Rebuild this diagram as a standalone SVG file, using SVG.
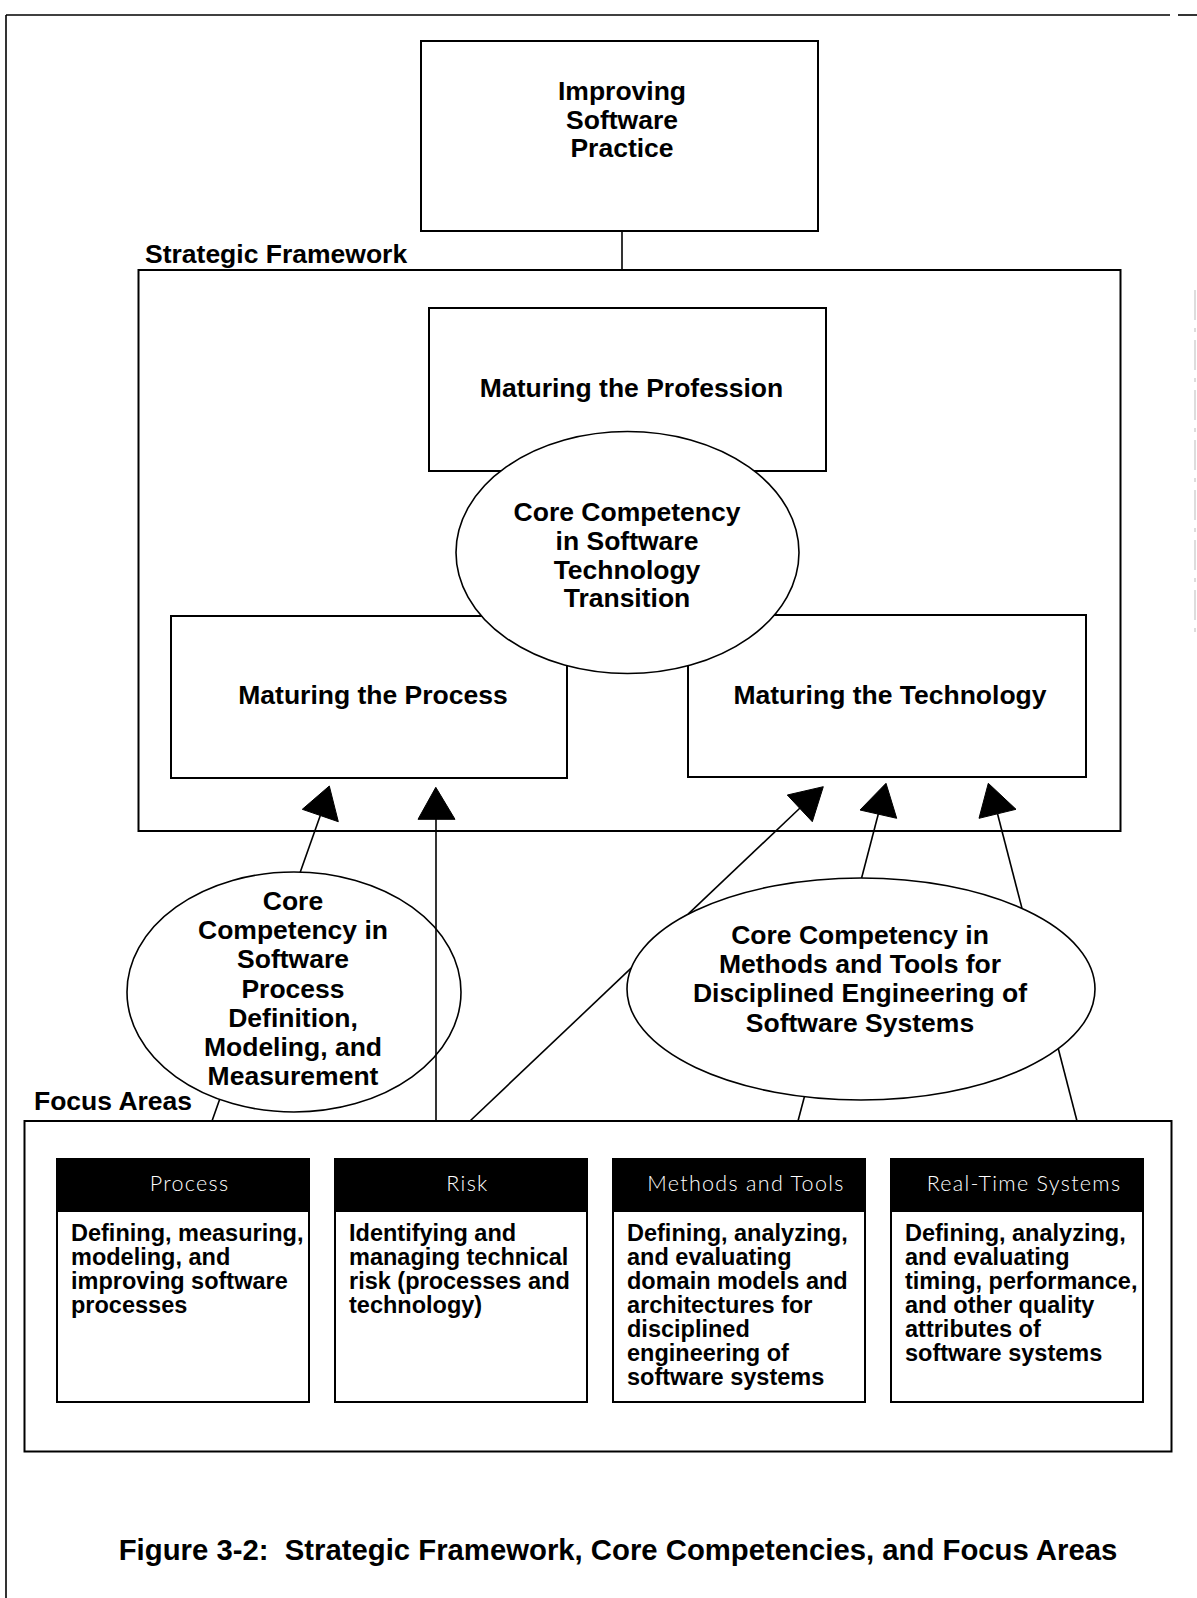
<svg xmlns="http://www.w3.org/2000/svg" width="1197" height="1598" viewBox="0 0 1197 1598">
  <style>
    .frame { fill: none; stroke: #000; stroke-width: 2; }
    .box { fill: #fff; stroke: #000; stroke-width: 2; }
    .ell { fill: #fff; stroke: #000; stroke-width: 1.6; }
    .hdrbar { fill: #000; stroke: #000; stroke-width: 2; }
    .t { font-family: "Liberation Sans", Arial, sans-serif; font-weight: bold; font-size: 26.5px; fill: #000; text-anchor: middle; }
    .lbl { font-family: "Liberation Sans", Arial, sans-serif; font-weight: bold; font-size: 26.5px; fill: #000; }
    .body { font-family: "Liberation Sans", Arial, sans-serif; font-weight: bold; font-size: 23.5px; fill: #000; }
    .hdr { font-family: Lato, "Liberation Sans", Arial, sans-serif; font-weight: 300; font-size: 21.5px; fill: #fff; text-anchor: middle; letter-spacing: 1.3px; }
    .cap { font-family: "Liberation Sans", Arial, sans-serif; font-weight: bold; font-size: 29.3px; fill: #000; text-anchor: middle; }
    .conn line { stroke: #000; stroke-width: 1.6; }
    .conn polygon { fill: #000; stroke: #000; stroke-width: 1; stroke-linejoin: round; }
    .edge { stroke: #000; stroke-width: 1.6; fill: none; }
  </style>

  <!-- page border -->
  <g id="page-border">
    <line class="edge" x1="6" y1="15" x2="1170" y2="15"/>
    <line class="edge" x1="1178" y1="15" x2="1197" y2="15"/>
    <line class="edge" x1="6" y1="15" x2="6" y2="1598"/>
    <line x1="1195" y1="290" x2="1195" y2="640" stroke="#bbb" stroke-width="1" stroke-dasharray="30 8 4 8"/>
  </g>

  <!-- top goal -->
  <g id="improving-practice">
    <rect class="box" x="421" y="41" width="397" height="190"/>
    <text class="t" x="622" y="100">Improving</text>
    <text class="t" x="622" y="128.5">Software</text>
    <text class="t" x="622" y="157">Practice</text>
  </g>

  <!-- strategic framework container -->
  <g id="strategic-framework">
    <text class="lbl" x="145" y="263">Strategic Framework</text>
    <rect class="frame" x="138.5" y="270" width="982" height="561"/>
  </g>

  <g id="maturing-profession">
    <rect class="box" x="429" y="308" width="397" height="163"/>
    <text class="t" x="631.5" y="397">Maturing the Profession</text>
  </g>

  <g id="maturing-process">
    <rect class="box" x="171" y="616" width="396" height="162"/>
    <text class="t" x="373" y="704">Maturing the Process</text>
  </g>

  <g id="maturing-technology">
    <rect class="box" x="688" y="615" width="398" height="162"/>
    <text class="t" x="890" y="704">Maturing the Technology</text>
  </g>

  <g id="cc-transition">
    <ellipse class="ell" cx="627.5" cy="552.5" rx="171.5" ry="121"/>
    <text class="t" x="627" y="521">Core Competency</text>
    <text class="t" x="627" y="550">in Software</text>
    <text class="t" x="627" y="578.5">Technology</text>
    <text class="t" x="627" y="607">Transition</text>
  </g>

  <!-- core competencies between framework and focus areas -->
  <g id="cc-process">
    <ellipse class="ell" cx="294" cy="992" rx="167" ry="120"/>
    <text class="t" x="293" y="910">Core</text>
    <text class="t" x="293" y="939">Competency in</text>
    <text class="t" x="293" y="968">Software</text>
    <text class="t" x="293" y="998">Process</text>
    <text class="t" x="293" y="1027">Definition,</text>
    <text class="t" x="293" y="1056">Modeling, and</text>
    <text class="t" x="293" y="1085">Measurement</text>
  </g>

  <g id="cc-methods">
    <ellipse class="ell" cx="861" cy="989" rx="234" ry="111"/>
    <text class="t" x="860" y="944">Core Competency in</text>
    <text class="t" x="860" y="973">Methods and Tools for</text>
    <text class="t" x="860" y="1002">Disciplined Engineering of</text>
    <text class="t" x="860" y="1032">Software Systems</text>
  </g>

  <!-- focus areas container -->
  <g id="focus-areas">
    <text class="lbl" x="34" y="1110">Focus Areas</text>
    <rect class="frame" x="24.5" y="1121" width="1147" height="330.5"/>
  </g>

  <g id="fa-process">
    <rect class="box" x="57" y="1159" width="252" height="243"/>
    <rect class="hdrbar" x="57" y="1159" width="252" height="52"/>
    <text class="hdr" x="189.5" y="1190.5">Process</text>
    <text class="body" x="71">
      <tspan x="71" y="1241">Defining, measuring,</tspan>
      <tspan x="71" y="1265">modeling, and</tspan>
      <tspan x="71" y="1289">improving software</tspan>
      <tspan x="71" y="1313">processes</tspan>
    </text>
  </g>

  <g id="fa-risk">
    <rect class="box" x="335" y="1159" width="252" height="243"/>
    <rect class="hdrbar" x="335" y="1159" width="252" height="52"/>
    <text class="hdr" x="467.5" y="1190.5">Risk</text>
    <text class="body" x="349">
      <tspan x="349" y="1241">Identifying and</tspan>
      <tspan x="349" y="1265">managing technical</tspan>
      <tspan x="349" y="1289">risk (processes and</tspan>
      <tspan x="349" y="1313">technology)</tspan>
    </text>
  </g>

  <g id="fa-methods">
    <rect class="box" x="613" y="1159" width="252" height="243"/>
    <rect class="hdrbar" x="613" y="1159" width="252" height="52"/>
    <text class="hdr" x="746" y="1190.5">Methods and Tools</text>
    <text class="body" x="627">
      <tspan x="627" y="1241">Defining, analyzing,</tspan>
      <tspan x="627" y="1265">and evaluating</tspan>
      <tspan x="627" y="1289">domain models and</tspan>
      <tspan x="627" y="1313">architectures for</tspan>
      <tspan x="627" y="1337">disciplined</tspan>
      <tspan x="627" y="1361">engineering of</tspan>
      <tspan x="627" y="1385">software systems</tspan>
    </text>
  </g>

  <g id="fa-realtime">
    <rect class="box" x="891" y="1159" width="252" height="243"/>
    <rect class="hdrbar" x="891" y="1159" width="252" height="52"/>
    <text class="hdr" x="1024" y="1190.5">Real-Time Systems</text>
    <text class="body" x="905">
      <tspan x="905" y="1241">Defining, analyzing,</tspan>
      <tspan x="905" y="1265">and evaluating</tspan>
      <tspan x="905" y="1289">timing, performance,</tspan>
      <tspan x="905" y="1313">and other quality</tspan>
      <tspan x="905" y="1337">attributes of</tspan>
      <tspan x="905" y="1361">software systems</tspan>
    </text>
  </g>

  <!-- connectors: lines run from the focus areas up to the framework,
       split where they pass behind a competency ellipse -->
  <g id="connectors" class="conn">
    <line x1="622" y1="231" x2="622" y2="270"/>

    <line x1="212" y1="1121" x2="219.6" y2="1099.4"/>
    <line x1="300.2" y1="872.2" x2="320.3" y2="815.5"/>
    <polygon points="329.3,786 302.3,809.3 338.3,821.7"/>

    <line x1="436" y1="1121" x2="436" y2="819"/>
    <polygon points="435.8,787.3 418,819.3 455,819.3"/>

    <line x1="470" y1="1121" x2="631.1" y2="968.2"/>
    <line x1="688.1" y1="914.1" x2="800" y2="808"/>
    <polygon points="823.3,786.7 787.3,795 812.3,821.7"/>

    <line x1="798" y1="1121" x2="804.4" y2="1096.7"/>
    <line x1="861.6" y1="878" x2="878.3" y2="814"/>
    <polygon points="886,783.3 860,810 896.7,818.3"/>

    <line x1="1077" y1="1121" x2="1058.3" y2="1048.7"/>
    <line x1="1022" y1="908.4" x2="997.5" y2="813.8"/>
    <polygon points="988.3,783.3 979,818.3 1016,809.3"/>
  </g>

  <text class="cap" x="618" y="1560" xml:space="preserve">Figure 3-2:  Strategic Framework, Core Competencies, and Focus Areas</text>
</svg>
